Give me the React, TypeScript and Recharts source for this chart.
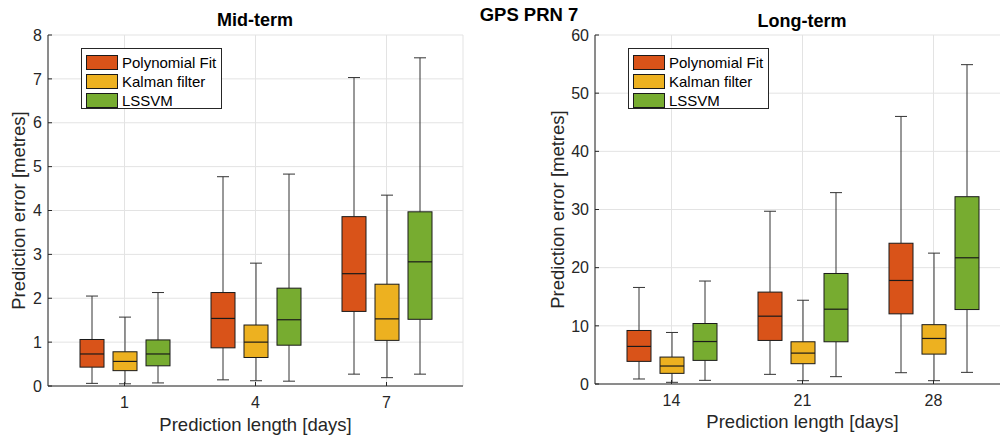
import { ComposedChart, Bar, XAxis, YAxis, CartesianGrid, Legend } from 'recharts';

// box stats per category: [min, q1, median, q3, max]
const midCategories = ['1', '4', '7'];
const midPoly = [
  [0.06, 0.43, 0.73, 1.06, 2.05],
  [0.14, 0.87, 1.54, 2.13, 4.77],
  [0.27, 1.7, 2.56, 3.86, 7.03],
];
const midKalman = [
  [0.05, 0.35, 0.56, 0.78, 1.57],
  [0.12, 0.65, 1.0, 1.39, 2.8],
  [0.19, 1.04, 1.53, 2.32, 4.35],
];
const midLssvm = [
  [0.07, 0.46, 0.73, 1.05, 2.13],
  [0.11, 0.93, 1.51, 2.23, 4.83],
  [0.27, 1.52, 2.83, 3.97, 7.48],
];

const longCategories = ['14', '21', '28'];
const longPoly = [
  [0.86, 3.89, 6.46, 9.2, 16.6],
  [1.66, 7.49, 11.66, 15.8, 29.7],
  [1.94, 12.06, 17.8, 24.2, 46.0],
];
const longKalman = [
  [0.29, 1.83, 3.09, 4.63, 8.86],
  [0.57, 3.49, 5.31, 7.26, 14.4],
  [0.57, 5.14, 7.83, 10.2, 22.5],
];
const longLssvm = [
  [0.63, 4.06, 7.3, 10.4, 17.7],
  [1.26, 7.26, 12.86, 19.0, 32.9],
  [2.0, 12.8, 21.7, 32.2, 54.9],
];

const midTicks = [0, 1, 2, 3, 4, 5, 6, 7, 8];
const longTicks = [0, 10, 20, 30, 40, 50, 60];

const seriesNames = ['Polynomial Fit', 'Kalman filter', 'LSSVM'];
const seriesKeys = ['poly', 'kalman', 'lssvm'];
const seriesColors = ['#D95319', '#EDB120', '#77AC30'];

const FONT = '"Liberation Sans", Arial, Helvetica, sans-serif';
const AXIS = '#262626';

// range bars take [min, max]; full stats are kept next to them for the box
function buildRows(cats: string[], poly: number[][], kalman: number[][], lssvm: number[][]) {
  return cats.map((c, i) => ({
    cat: c,
    poly: [poly[i][0], poly[i][4]],
    kalman: [kalman[i][0], kalman[i][4]],
    lssvm: [lssvm[i][0], lssvm[i][4]],
    polyStats: poly[i],
    kalmanStats: kalman[i],
    lssvmStats: lssvm[i],
  }));
}

function BoxShape(props: any) {
  const { x, y, width, height, payload, statKey, color } = props;
  const stats = payload && payload[statKey];
  if (!stats) return null;
  const [mn, q1, md, q3, mx] = stats;
  const toY = (v: number) => y + ((mx - v) / (mx - mn)) * height;
  const cx = x + width / 2;
  const cap = 6;
  return (
    <g>
      <line x1={cx} x2={cx} y1={toY(mx)} y2={toY(q3)} stroke="#333" strokeWidth={1} />
      <line x1={cx} x2={cx} y1={toY(q1)} y2={toY(mn)} stroke="#333" strokeWidth={1} />
      <line x1={cx - cap} x2={cx + cap} y1={toY(mx)} y2={toY(mx)} stroke="#333" strokeWidth={1} />
      <line x1={cx - cap} x2={cx + cap} y1={toY(mn)} y2={toY(mn)} stroke="#333" strokeWidth={1} />
      <rect x={x} y={toY(q3)} width={width} height={toY(q1) - toY(q3)} fill={color} stroke="#1a1a1a" strokeWidth={1} />
      <line x1={x} x2={x + width} y1={toY(md)} y2={toY(md)} stroke="#1a1a1a" strokeWidth={1.2} />
    </g>
  );
}

function LegendBox({ left, top }: { left: number; top: number }) {
  return (
    <div
      style={{
        position: 'absolute',
        left,
        top,
        width: 141,
        height: 61,
        border: '1px solid #262626',
        background: '#fff',
        boxSizing: 'border-box',
        padding: '4px 0 0 4px',
        fontFamily: FONT,
        fontSize: 15,
        color: '#000',
      }}
    >
      {seriesNames.map((n, i) => (
        <div key={n} style={{ display: 'flex', alignItems: 'center', height: 19 }}>
          <span
            style={{
              display: 'inline-block',
              width: 30,
              height: 13,
              background: seriesColors[i],
              border: '1px solid #1a1a1a',
              marginRight: 4,
            }}
          />
          <span>{n}</span>
        </div>
      ))}
    </div>
  );
}

interface PanelProps {
  rows: any[];
  ticks: number[];
  yMax: number;
  width: number;
  marginLeft: number;
  marginRight: number;
  xAxisHeight: number;
  labelOffsetX: number;
  labelOffsetBottom: number;
  legendLeft: number;
}

function Panel(p: PanelProps) {
  return (
    <ComposedChart
      width={p.width}
      height={435}
      data={p.rows}
      margin={{ top: 35, left: p.marginLeft, right: p.marginRight, bottom: 0 }}
      barSize={24}
      barGap={9}
    >
      <CartesianGrid stroke="#e3e3e3" />
      <XAxis
        dataKey="cat"
        height={p.xAxisHeight}
        padding={{ left: 11, right: 11 }}
        stroke={AXIS}
        tickSize={-4}
        tickMargin={15}
        tick={{ fill: AXIS, fontSize: 16, fontFamily: FONT }}
        label={{
          value: 'Prediction length [days]',
          position: 'insideBottom',
          offset: p.labelOffsetBottom,
          fill: AXIS,
          fontSize: 18.5,
          fontFamily: FONT,
        }}
      />
      <YAxis
        width={30}
        domain={[0, p.yMax]}
        ticks={p.ticks}
        allowDataOverflow
        stroke={AXIS}
        tickSize={-4}
        tickMargin={10}
        tick={{ fill: AXIS, fontSize: 16, fontFamily: FONT }}
        label={{
          value: 'Prediction error [metres]',
          angle: -90,
          position: 'center',
          dx: p.labelOffsetX,
          fill: AXIS,
          fontSize: 18.5,
          fontFamily: FONT,
        }}
      />
      <Legend
        layout="vertical"
        align="center"
        verticalAlign="middle"
        wrapperStyle={{ left: 0, top: 0, width: 0, height: 0 }}
        content={() => <LegendBox left={p.legendLeft} top={48} />}
      />
      {seriesKeys.map((k, i) => (
        <Bar
          key={k}
          dataKey={k}
          name={seriesNames[i]}
          fill={seriesColors[i]}
          isAnimationActive={false}
          shape={(sp: any) => <BoxShape {...sp} statKey={k + 'Stats'} color={seriesColors[i]} />}
        />
      ))}
    </ComposedChart>
  );
}

export default function App() {
  const midRows = buildRows(midCategories, midPoly, midKalman, midLssvm);
  const longRows = buildRows(longCategories, longPoly, longKalman, longLssvm);

  const titleStyle: React.CSSProperties = {
    position: 'absolute',
    fontFamily: FONT,
    fontWeight: 'bold',
    color: '#000',
    whiteSpace: 'nowrap',
    transform: 'translateX(-50%)',
  };

  return (
    <div
      style={{
        position: 'fixed',
        left: 0,
        top: 0,
        width: 1000,
        height: 435,
        overflow: 'hidden',
        background: '#fff',
      }}
    >
      <div style={{ position: 'absolute', left: 0, top: 0 }}>
        <Panel
          rows={midRows}
          ticks={midTicks}
          yMax={8}
          width={500}
          marginLeft={18}
          marginRight={37}
          xAxisHeight={49}
          labelOffsetX={-15}
          labelOffsetBottom={4}
          legendLeft={81}
        />
      </div>
      <div style={{ position: 'absolute', left: 500, top: 0 }}>
        <Panel
          rows={longRows}
          ticks={longTicks}
          yMax={60}
          width={520}
          marginLeft={65}
          marginRight={10}
          xAxisHeight={51}
          labelOffsetX={-23}
          labelOffsetBottom={7}
          legendLeft={128}
        />
      </div>
      <div style={{ ...titleStyle, left: 255, top: 10, fontSize: 18 }}>Mid-term</div>
      <div style={{ ...titleStyle, left: 529, top: 4, fontSize: 18.5 }}>GPS PRN 7</div>
      <div style={{ ...titleStyle, left: 802, top: 11, fontSize: 18 }}>Long-term</div>
    </div>
  );
}
